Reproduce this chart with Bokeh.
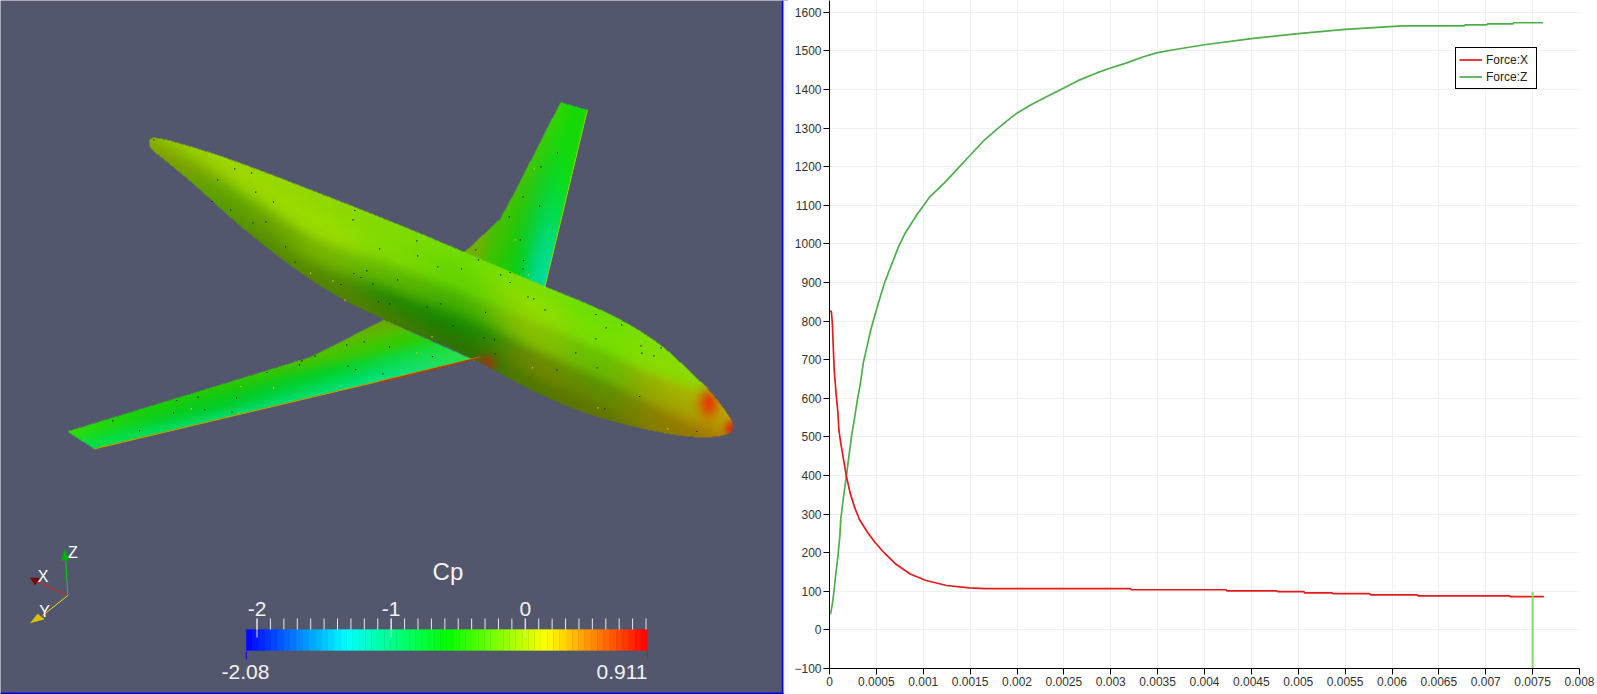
import numpy as np
from bokeh.plotting import figure
from bokeh.layouts import row
from bokeh.models import Range1d, FixedTicker, Legend, LegendItem
from bokeh.core.properties import value
from bokeh.embed import file_html
from bokeh.resources import INLINE

# ---------- chart data ----------
force_x_t = [0.000005,0.00002,0.00003,0.00004,0.00005,0.00007,0.00009,0.00010,0.00012,0.00015,0.00018,0.00022,0.00027,0.00032,0.00041,0.00049,0.00059,0.00071,0.00086,0.00103,0.00125,0.00149,0.00166,0.00321,0.00322,0.00423,0.00424,0.00477,0.00478,0.00506,0.00507,0.00536,0.00537,0.00576,0.00577,0.00627,0.00628,0.00725,0.00726,0.00762]
force_x_v = [825,825,795,734,674,613,562,518,484,441,398,355,316,286,251,225,198,170,145,128,115,109,107,107,104,104,101,101,99,99,96,96,94,94,91,91,88,88,86,86]
force_z_t = [0.00001,0.00003,0.00005,0.00006,0.00009,0.00011,0.00012,0.00015,0.00018,0.00021,0.00024,0.00027,0.00030,0.00033,0.00036,0.00040,0.00044,0.00050,0.00054,0.00059,0.00066,0.00074,0.00081,0.00093,0.00100,0.00107,0.00122,0.00136,0.00149,0.00164,0.00178,0.00193,0.00199,0.00214,0.00232,0.00250,0.00267,0.00285,0.00299,0.00317,0.00335,0.00349,0.00367,0.00400,0.00450,0.00500,0.00550,0.00611,0.00677,0.00678,0.00701,0.00702,0.00729,0.00730,0.00761]
force_z_v = [40,66,104,130,191,242,286,346,398,456,510,553,600,639,691,734,777,829,862,901,945,995,1029,1075,1098,1122,1157,1193,1227,1266,1296,1326,1337,1359,1382,1404,1425,1443,1455,1469,1485,1495,1503,1516,1532,1545,1556,1565,1565,1567.5,1567.5,1570,1570,1573,1573]
cursor_t = [0.0075, 0.0075]
cursor_v = [-100, 99]
series_names = ["Force:X", "Force:Z"]
x_ticks = [i * 0.0005 for i in range(17)]
x_tick_labels = ["0","0.0005","0.001","0.0015","0.002","0.0025","0.003","0.0035","0.004","0.0045","0.005","0.0055","0.006","0.0065","0.007","0.0075","0.008"]
y_ticks = list(range(-100, 1601, 100))

# ---------- colour bar data ----------
cp_title = "Cp"
cp_min, cp_max = -2.08, 0.911
cp_major = [-2, -1, 0]
cp_bands = 64

# ---------- render outlines / colour samples (crop coordinates) ----------
fuselage = [(242,180),(255,168),(330,195),(430,238),(600,325),(800,430),(950,515),(1130,618),(1280,700),(1390,790),(1460,880),(1500,930),(1540,1000),(1555,1040),(1540,1065),(1480,1073),(1400,1060),(1300,1030),(1200,990),(1100,930),(990,850),(900,790),(770,718),(680,660),(600,595),(520,515),(440,430),(360,330),(280,240),(245,205)]
far_wing = [(950,515),(1030,415),(1060,340),(1165,65),(1225,88),(1130,618)]
near_wing = [(770,718),(700,765),(600,832),(60,1053),(120,1105),(985,830),(990,850)]
fuselage_colours = [
 (255,180,"#70c000"),(300,195,"#a0d000"),(400,250,"#a0d800"),(360,300,"#50b000"),(385,340,"#40a000"),(330,290,"#8a9800"),(260,215,"#908800"),(300,250,"#80a000"),(410,370,"#509000"),
 (500,275,"#98d800"),(480,340,"#a0dc00"),(470,400,"#80b000"),(470,445,"#4f8600"),
 (650,355,"#90d800"),(640,450,"#9ade00"),(640,530,"#78b800"),(640,600,"#5a9000"),(640,625,"#507c00"),
 (800,435,"#80dc00"),(800,520,"#80dc00"),(800,600,"#60b800"),(800,670,"#1a8800"),(790,710,"#4a7a00"),
 (950,520,"#6cdc00"),(950,600,"#60d400"),(950,680,"#40b000"),(950,740,"#108800"),(950,800,"#2a7000"),
 (1100,605,"#80e000"),(1100,680,"#98dc00"),(1100,760,"#90c000"),(1100,850,"#788800"),(1100,920,"#507800"),
 (1250,690,"#68e000"),(1250,760,"#70e000"),(1250,850,"#60c000"),(1250,930,"#5a9000"),(1250,1000,"#607400"),
 (1400,800,"#80e000"),(1400,860,"#88e000"),(1400,950,"#80a000"),(1400,1040,"#888000"),
 (1460,890,"#90d800"),(1440,960,"#a8c000"),(1470,1000,"#b8b000"),(1520,1000,"#c8a000"),(1500,1050,"#b06800"),(1440,1060,"#907800")]
fuselage_hot = [(1497,968,"#e04000",7,10),(1548,1045,"#d83000",5,6),(1000,848,"#904010",6,6)]
near_wing_colours = [
 (70,1055,"#40e000"),(115,1095,"#00e040"),
 (220,990,"#20d000"),(250,1020,"#00cc20"),(260,1058,"#00e070"),
 (400,915,"#30c800"),(420,960,"#00c820"),(440,1015,"#00e080"),
 (600,840,"#50c000"),(630,880,"#00cc20"),(620,925,"#00dc50"),(620,965,"#00e090"),
 (700,770,"#70b800"),(740,800,"#40c800"),(760,850,"#00d830"),(770,905,"#00e8a0"),
 (770,725,"#60a800"),(850,770,"#20d000"),(900,810,"#10e040"),(850,848,"#00e0b0"),(950,825,"#30e050"),(965,815,"#50e000")]
far_wing_colours = [
 (1170,70,"#50d800"),(1195,80,"#00d800"),(1220,95,"#20d800"),
 (1125,200,"#60c800"),(1150,210,"#10d800"),(1190,220,"#00d800"),(1205,200,"#40d800"),
 (1090,300,"#60c000"),(1120,300,"#00cc10"),(1160,300,"#00dc30"),(1190,300,"#10e000"),
 (1040,400,"#60b800"),(1080,410,"#10c810"),(1120,410,"#00d860"),(1165,400,"#00e040"),
 (975,500,"#70b000"),(1030,500,"#20cc00"),(1090,500,"#00d040"),(1140,500,"#00e0a0"),
 (1060,570,"#10d000"),(1110,590,"#00d8a0"),(1125,610,"#00e0b0")]
near_edge = [(120,1105),(985,830)]
near_root = [(760,905),(988,830)]
far_edge = [(1225,88),(1130,618)]
dark_specks = [(254,178),(435,265),(397,298),(473,277),(482,335),(522,364),(385,363),(426,388),(505,424),(476,427),(700,418),(704,390),(549,499),(570,545),(760,505),(843,481),(845,526),(702,579),(731,571),(718,591),(745,610),(800,598),(673,612),(757,664),(782,670),(866,679),(897,670),(890,559),(943,565),(981,538),(975,508),(1158,217),(1121,259),(1081,349),(1118,377),(1050,409),(1075,478),(1082,540),(1081,565),(1052,576),(1031,583),(1052,606),(1092,649),(1105,655),(1130,688),(997,696),(1244,702),(1302,733),(1267,742),(1244,775),(1345,796),(1390,802),(1347,818),(1374,826),(1199,817),(1247,862),(1157,868),(1017,778),(993,772),(1018,820),(924,736),(878,828),(782,799),(725,784),(686,793),(615,827),(586,841),(580,853),(689,857),(706,867),(767,880),(507,876),(439,952),(353,950),(305,960),(298,997),(368,988),(429,995),(162,1021),(222,1051),(1342,948),(1264,985),(1470,1053)]
light_specks = [(605,578),(655,601),(682,659),(1106,265),(1064,478),(1093,583),(1102,862),(877,769),(843,818),(522,922),(449,918),(338,985),(1249,982),(1405,1045)]

LEFT_W, PAGE_H = 788, 694
BG = "#52576E"

def plane_xy(pts):
    return [40 + p[0] / 2.24 for p in pts], [694 - (80 + p[1] / 3) for p in pts]

def triad_xy(pts):
    return [a / 2.376 for a, b in pts], [694 - (520 + b / 3) for a, b in pts]

def hex_rgb(h):
    return [int(h[i:i + 2], 16) for i in (1, 3, 5)]

IMG_W, IMG_H = 700, 380
gx, gy = np.meshgrid(np.arange(IMG_W) + 40.5, np.arange(IMG_H) + 80.5)

def corner_cut(poly, n=2):
    pts = np.array(poly, float)
    for _ in range(n):
        nxt = np.roll(pts, -1, axis=0)
        pts = np.column_stack([0.75 * pts + 0.25 * nxt, 0.25 * pts + 0.75 * nxt]).reshape(-1, 2)
    return [tuple(p) for p in pts]

def inside(poly):
    xs = np.array([40 + p[0] / 2.24 for p in poly])
    ys = np.array([80 + p[1] / 3 for p in poly])
    m = np.zeros(gx.shape, bool)
    for i in range(len(xs)):
        j = (i + 1) % len(xs)
        c = (ys[i] > gy) != (ys[j] > gy)
        with np.errstate(divide="ignore", invalid="ignore"):
            m ^= c & (gx < (xs[j] - xs[i]) * (gy - ys[i]) / (ys[j] - ys[i]) + xs[i])
    return m

def shaded(samples, axis, su, sv):
    ax_u = np.array(axis, float) / np.hypot(*axis)
    sx = np.array([40 + s[0] / 2.24 for s in samples])[:, None, None]
    sy = np.array([80 + s[1] / 3 for s in samples])[:, None, None]
    col = np.array([hex_rgb(s[2]) for s in samples], float)
    dx, dy = gx - sx, gy - sy
    u = dx * ax_u[0] + dy * ax_u[1]
    v = -dx * ax_u[1] + dy * ax_u[0]
    w = np.exp(-0.5 * ((u / su) ** 2 + (v / sv) ** 2)) + 1e-9 / (dx ** 2 + dy ** 2 + 1)
    return np.einsum("kij,kc->ijc", w, col) / w.sum(axis=0)[..., None]

rgb = np.zeros((IMG_H, IMG_W, 3))
alpha = np.zeros((IMG_H, IMG_W), bool)
parts = ((far_wing, far_wing_colours, (0.16, -0.987), 40, 9),
         (near_wing, near_wing_colours, (-413, 74), 45, 8),
         (corner_cut(fuselage), fuselage_colours, (580, 288), 35, 9))
for poly, smp, axis, su, sv in parts:
    m = inside(poly)
    field = shaded(smp, axis, su, sv)
    if smp is fuselage_colours:
        for a, b, c, rx, ry in fuselage_hot:
            f = np.exp(-0.5 * (((gx - (40 + a / 2.24)) / rx) ** 2 + ((gy - (80 + b / 3)) / ry) ** 2))[..., None]
            field = field * (1 - f) + np.array(hex_rgb(c), float) * f
    rgb[m] = field[m]
    alpha |= m
img = np.zeros((IMG_H, IMG_W), dtype=np.uint32)
view = img.view(dtype=np.uint8).reshape((IMG_H, IMG_W, 4))
view[..., :3] = rgb.clip(0, 255).astype(np.uint8)
view[..., 3] = alpha * 255
img = img[::-1]

# ---------- left panel ----------
left = figure(width=LEFT_W, height=PAGE_H, x_range=Range1d(0, LEFT_W), y_range=Range1d(0, PAGE_H),
              x_axis_type=None, y_axis_type=None, toolbar_location=None, output_backend="svg",
              min_border=0, background_fill_color=BG, border_fill_color=BG, outline_line_color=None,
              frame_align=False)
left.grid.visible = False
left.quad(left=[781.3], right=[783], bottom=[0], top=[694], color="#0000ee", line_color=None)
left.quad(left=[783], right=[788], bottom=[0], top=[694], color="#f4f7ff", line_color=None)
left.quad(left=[0], right=[783], bottom=[0], top=[2], color="#0000ee", line_color=None)

left.image_rgba(image=[img], x=40, y=694 - 460, dw=IMG_W, dh=IMG_H)
ex, ey = plane_xy(near_edge)
left.line(ex, ey, line_color="#b8a000", line_width=1.3)
ex, ey = plane_xy(near_root)
left.line(ex, ey, line_color="#a84010", line_width=1.6)
ex, ey = plane_xy(far_edge)
left.line(ex, ey, line_color="#90d800", line_width=1)
dx, dy = plane_xy(dark_specks)
left.rect(dx, dy, width=1.2, height=1.2, color="#102000", line_color=None)
dx, dy = plane_xy(light_specks)
left.rect(dx, dy, width=1.2, height=1.2, color="#d8e000", line_color=None)

# orientation triad
for pts, col in (([(160,225),(155,120)], "#10d010"), ([(160,225),(88,183)], "#e02020"), ([(160,225),(100,285)], "#e8e000")):
    tx, ty = triad_xy(pts)
    left.line(tx, ty, line_color=col, line_width=1)
for pts, col in (([(153,85),(144,120),(163,120)], "#00b000"), ([(70,172),(93,172),(82,195)], "#780000"), ([(70,308),(88,280),(105,296)], "#d8c400")):
    tx, ty = triad_xy(pts)
    left.patch(tx, ty, color=col, line_color=None)
for lab, a, b in (("Z", 172, 95), ("X", 101, 167), ("Y", 105, 274)):
    tx, ty = triad_xy([(a, b)])
    left.text(tx, ty, text=[lab], text_color="#ffffff", text_font=value("Liberation Sans"),
              text_font_size="16px", text_align="center", text_baseline="middle")

# colour bar
BAR_L, BAR_R = 245.8, 647.0
def cp_px(v):
    return BAR_L + (np.asarray(v, float) - cp_min) / (cp_max - cp_min) * (BAR_R - BAR_L)

anchors = np.array([[0,0,255],[0,255,255],[0,255,0],[255,255,0],[255,0,0]], float)
fr = (np.arange(cp_bands) + 0.5) / cp_bands * 4
band_cols = ["#%02x%02x%02x" % tuple(int(np.interp(f, range(5), anchors[:, c])) for c in range(3)) for f in fr]
edges = np.linspace(cp_min, cp_max, cp_bands + 1)
left.quad(left=cp_px(edges[:-1]), right=cp_px(edges[1:]), bottom=694 - 650, top=694 - 629,
          color=band_cols, line_color=band_cols, line_width=0.3)
minor = np.arange(-20, 10) / 10
mpx = cp_px(minor)
left.segment(mpx, 694 - 618, mpx, 694 - 629, line_color="#e8e8e8", line_width=1)
jpx = cp_px(cp_major)
left.segment(jpx, 694 - 618, jpx, 694 - 637, line_color="#e8e8e8", line_width=1)
left.segment([cp_px(cp_min)], 694 - 651, [cp_px(cp_min)], 694 - 659, line_color="#0000ff", line_width=1)
left.segment([cp_px(cp_max)], 694 - 651, [cp_px(cp_max)], 694 - 659, line_color="#ff0000", line_width=1)
TXT = dict(text_color="#f2f2f2", text_font=value("Liberation Sans"), text_baseline="middle")
left.text(jpx, [694 - 608] * 3, text=[str(v) for v in cp_major], text_align="center", text_font_size="21px", **TXT)
left.text([447.4], [694 - 571], text=[cp_title], text_align="center", text_font_size="24px", **TXT)
left.text([245], [694 - 671], text=[str(cp_min)], text_align="center", text_font_size="21px", **TXT)
left.text([647], [694 - 671], text=[str(cp_max)], text_align="right", text_font_size="21px", **TXT)

# ---------- right panel ----------
right = figure(width=1597 - LEFT_W, height=PAGE_H, x_range=Range1d(0, 0.008), y_range=Range1d(-100, 1630.6),
               toolbar_location=None, output_backend="svg", min_border_left=41, min_border_right=18,
               min_border_top=0, min_border_bottom=26, outline_line_color=None, frame_align=False)
for ax, ticks in ((right.xaxis[0], x_ticks), (right.yaxis[0], y_ticks)):
    ax.ticker = FixedTicker(ticks=ticks)
    ax.axis_line_color = "#000000"
    ax.major_tick_line_color = "#000000"
    ax.major_tick_out = 6
    ax.major_tick_in = 0
    ax.minor_tick_line_color = None
    ax.major_label_text_font = "Liberation Sans"
    ax.major_label_text_font_size = "12px"
    ax.major_label_text_color = "#333333"
    ax.major_label_standoff = 2
right.xaxis[0].major_label_overrides = {t: s for t, s in zip(x_ticks, x_tick_labels)}
right.grid.grid_line_color = "#f0f0f0"
right.grid.grid_line_width = 1

green = right.line(force_z_t, force_z_v, line_color="#4daf4a", line_width=1.7)
red = right.line(force_x_t, force_x_v, line_color="#e41a1c", line_width=1.7)
right.line(cursor_t, cursor_v, line_color="#88d868", line_width=2)

legend = Legend(items=[LegendItem(label=series_names[0], renderers=[red]), LegendItem(label=series_names[1], renderers=[green])],
                location=(626, 579), orientation="vertical", border_line_color="#000000", border_line_width=1, border_line_alpha=1,
                background_fill_color="#ffffff", background_fill_alpha=1,
                label_text_font="Liberation Sans", label_text_font_size="12px", label_text_color="#222222",
                glyph_width=23, glyph_height=17, label_height=17, label_width=47, label_standoff=4, spacing=0, padding=3, margin=0)
right.add_layout(legend, "center")

page = row(left, right, spacing=0)
open("out.html", "w").write(file_html(page, INLINE))
